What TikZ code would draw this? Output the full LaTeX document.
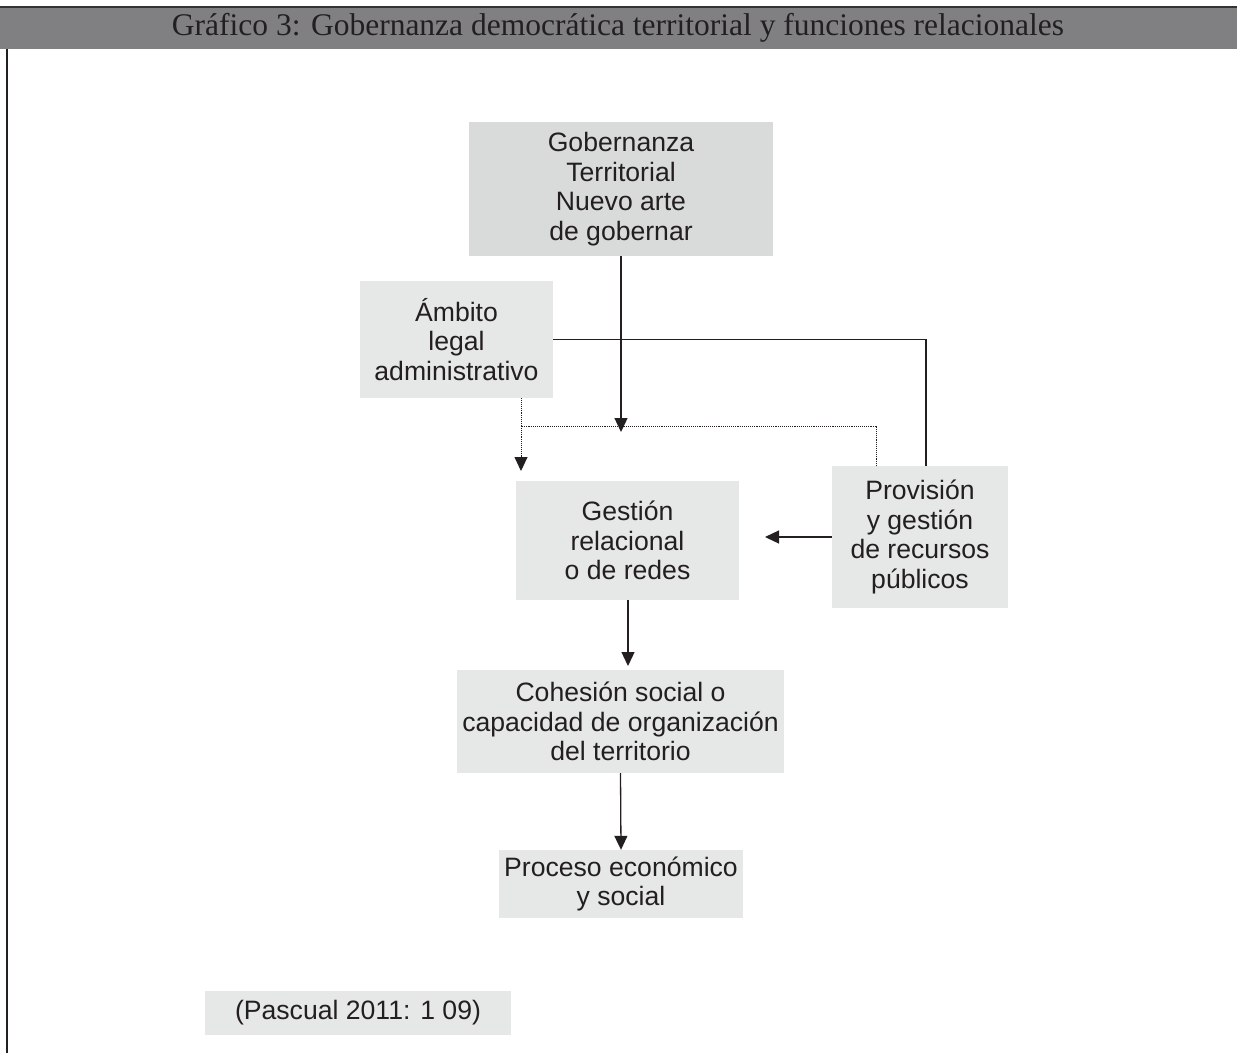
\documentclass[tikz,border=0pt]{standalone}
\usepackage{fontspec}
\setmainfont{Liberation Sans}
\newfontfamily\headfont{Liberation Serif}
\usetikzlibrary{arrows.meta}
\definecolor{hdrgray}{HTML}{808083}
\definecolor{boxlight}{HTML}{E6E7E7}
\definecolor{boxdark}{HTML}{D9DADA}
\definecolor{ink}{HTML}{231F20}
\begin{document}
\begin{tikzpicture}[x=1pt,y=-1pt,
  box/.style={draw=none,fill=boxlight,inner sep=0pt,align=center,text=ink,
    font=\fontsize{26.6}{29.7}\selectfont},
  arr/.style={line width=1.3pt,draw=ink,-{Triangle[length=14pt,width=13pt]}},
  conn/.style={line width=1.3pt,draw=ink},
  dots/.style={line width=0.9pt,draw=ink,densely dotted}]
\useasboundingbox (0,0) rectangle (1237,1053);
% header
\fill[hdrgray] (0,8) rectangle (1237,49);
\draw[line width=2pt,draw=black!80] (0,7) -- (1237,7);
\node[font=\headfont\fontsize{31.5}{34}\selectfont,text=ink] (title) at (618,28)
  {Gráfico 3: Gobernanza democrática territorial y funciones relacionales};
\draw[line width=1.2pt,draw=ink] (7,49) -- (7,1053);
% boxes
\node[box,fill=boxdark,minimum width=304pt,minimum height=134pt] (gob) at (621,189)
  {Gobernanza\\Territorial\\Nuevo arte\\de gobernar};
\node[box,minimum width=193pt,minimum height=117pt] (amb) at (456.5,339.5)
  {Ámbito\\legal\\administrativo};
\node[box,minimum width=223pt,minimum height=119pt] (ges) at (627.5,540.5)
  {Gestión\\relacional\\o de redes};
\node[box,minimum width=176pt,minimum height=142pt] (prov) at (920,537)
  {Provisión\\y gestión\\de recursos\\públicos};
\node[box,minimum width=327pt,minimum height=103pt] (coh) at (620.5,721.5)
  {Cohesión social o\\capacidad de organización\\del territorio};
\node[box,minimum width=244pt,minimum height=68pt] (proc) at (621,884)
  {Proceso económico\\y social};
\node[box,minimum width=306pt,minimum height=44pt] (src) at (358,1013)
  {(Pascual 2011: 1 09)};
% coordinates
\coordinate (gobtip) at (621,432);
\coordinate (pr1) at (926,466);
\coordinate (pr2) at (876,466);
\coordinate (dj) at (521,426);
\coordinate (dtip) at (521,471);
\coordinate (provtip) at (765,537);
\coordinate (gestip) at (628,666);
% connectors
\draw[arr] (gob.south) -- (gobtip);
\draw[conn] (amb.east) -| (pr1);
\draw[dots] (pr2) |- (dj);
\draw[dots] (amb.south -| dj) -- (dj);
\draw[dots,-{Triangle[length=14pt,width=13pt,fill=ink]}] (dj) -- (dtip);
\draw[arr] (prov.west) -- (provtip);
\draw[arr] (ges.south -| gestip) -- (gestip);
\draw[arr] (coh.south) -- (proc.north);
\end{tikzpicture}
\end{document}
